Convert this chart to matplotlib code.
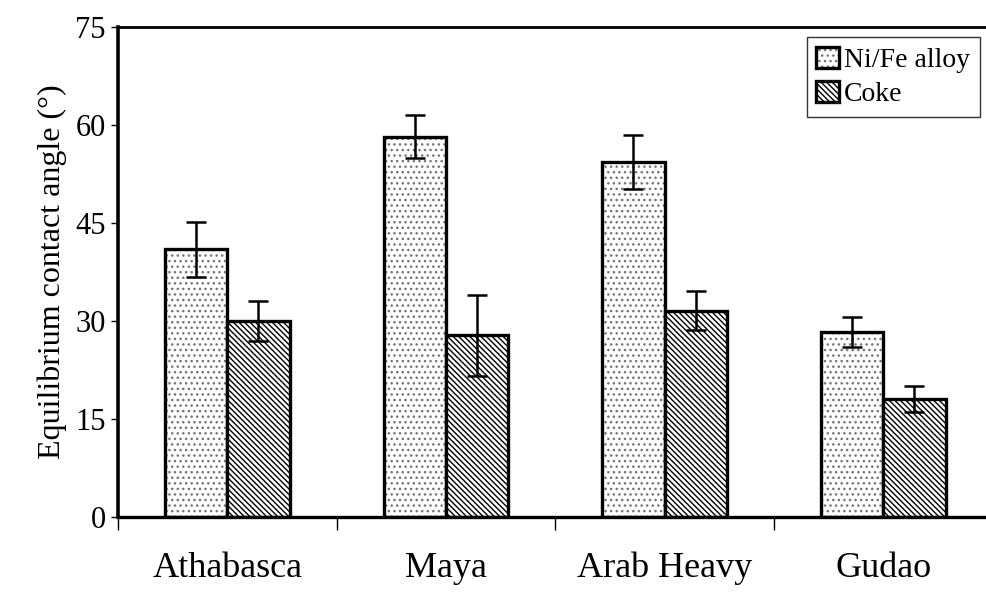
import matplotlib.pyplot as plt
import numpy as np

plt.rcParams['font.family'] = ['Liberation Serif', 'DejaVu Serif']
plt.rcParams['hatch.linewidth'] = 1.0

categories = ['Athabasca', 'Maya', 'Arab Heavy', 'Gudao']
nife = [41.0, 58.2, 54.3, 28.3]
nife_err = [4.2, 3.3, 4.1, 2.3]
coke = [30.0, 27.8, 31.6, 18.0]
coke_err = [3.0, 6.2, 3.0, 2.0]

fig = plt.figure(figsize=(9.86, 5.96), dpi=100)
ax = fig.add_axes([0.1197, 0.1326, 0.8803, 0.8221])

x = np.arange(len(categories))
w = 0.285

b1 = ax.bar(x - w / 2, nife, w, color='white', edgecolor='black', linewidth=2.4,
            hatch='...', label='Ni/Fe alloy', zorder=2)
b2 = ax.bar(x + w / 2, coke, w, color='white', edgecolor='black', linewidth=2.4,
            hatch='\\\\\\\\\\\\', label='Coke', zorder=2)
for b in b1:
    b._hatch_color = (0.45, 0.45, 0.45, 1.0)

ax.errorbar(x - w / 2, nife, yerr=nife_err, fmt='none', ecolor='black',
            elinewidth=1.8, capsize=7, capthick=1.8, zorder=3)
ax.errorbar(x + w / 2, coke, yerr=coke_err, fmt='none', ecolor='black',
            elinewidth=1.8, capsize=7, capthick=1.8, zorder=3)

ax.set_ylim(0, 75)
ax.set_yticks([0, 15, 30, 45, 60, 75])
ax.set_xlim(-0.5, 3.47)
ax.set_xticks([-0.5, 0.5, 1.5, 2.5])
ax.set_xticklabels([])
ax.tick_params(axis='x', direction='out', length=9, width=1, bottom=True)
ax.tick_params(axis='y', direction='out', length=5, width=1, labelsize=22, pad=4)
for i, c in enumerate(categories):
    ax.text(i, -7.9, c, ha='center', va='center', fontsize=26)

ax.spines['right'].set_visible(False)
ax.spines['left'].set_linewidth(2.6)
ax.spines['bottom'].set_linewidth(2.4)
ax.spines['top'].set_linewidth(2.0)

ax.set_ylabel('Equilibrium contact angle (°)', fontsize=23, labelpad=6)

leg = ax.legend(loc='upper right', bbox_to_anchor=(0.993, 0.98), fontsize=20,
                frameon=True, fancybox=False, edgecolor='black',
                handlelength=0.8, handleheight=0.8, handletextpad=0.2,
                borderpad=0.35, labelspacing=0.3, borderaxespad=0)
leg.get_frame().set_linewidth(1.0)

fig.savefig('out.png', dpi=100)
